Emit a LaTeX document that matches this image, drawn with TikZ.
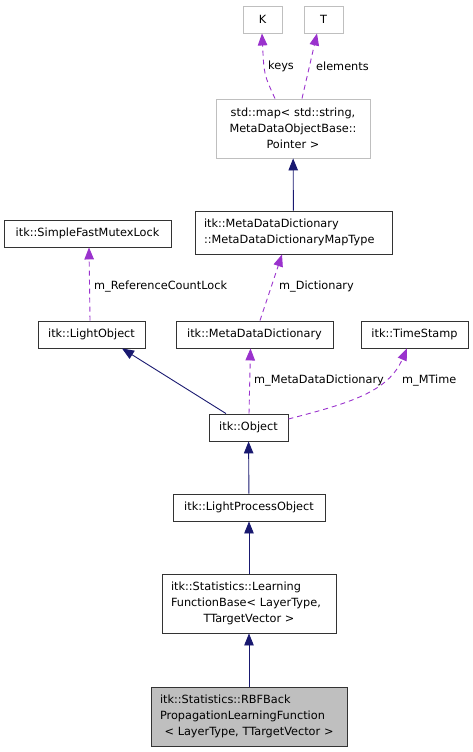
\documentclass[tikz,border=0pt]{standalone}
\usepackage{fontspec}
\setmainfont{DejaVu Sans}
\usetikzlibrary{arrows.meta, positioning}
\definecolor{inhblue}{HTML}{191970}
\definecolor{usepurple}{HTML}{9A32CD}
\definecolor{greyfill}{HTML}{BFBFBF}
\newcommand{\midline}[1]{\par\hfill #1\hfill\null}
\begin{document}
\begin{tikzpicture}[x = 1pt, y = -1pt,
    classbox/.style = {draw = black!80, line width = 0.9pt, inner xsep = 9pt, inner ysep = 0pt,
        font = \fontsize{11.3}{16}\selectfont},
    extbox/.style = {classbox, draw = greyfill},
    inherit/.style = {draw = inhblue, line width = 0.9pt, -{Triangle[length = 12pt, width = 9.5pt]}},
    member/.style = {draw = usepurple, line width = 0.9pt, dash pattern = on 5pt off 4pt,
        -{Triangle[length = 12pt, width = 9.5pt]}},
    memlabel/.style = {anchor = west, inner sep = 0pt, font = \fontsize{11.3}{16}\selectfont}]
    \useasboundingbox (0,0) rectangle (473,752);
    % Parametri dei template
    \node[extbox, text width = 21pt, align = center, minimum height = 27pt] (K) at (262.5,19.5) {K};
    \node[extbox, text width = 21pt, align = center, minimum height = 27pt] (T) at (323.5,19.5) {T};
    \node[extbox, text width = 136pt, align = center, minimum height = 59pt] (stdmap) at (293,128.5)
        {std::map< std::string,\\ MetaDataObjectBase::\\Pointer >};
    % Dizionario e lock
    \node[classbox, text width = 149pt, align = center, minimum height = 27pt] (mutex) at (87.5,233.5)
        {itk::SimpleFastMutexLock};
    \node[classbox, text width = 179pt, align = left, minimum height = 43pt] (maptype) at (293.5,232.5)
        {itk::MetaDataDictionary\\::MetaDataDictionaryMapType};
    \node[classbox, text width = 89pt, align = center, minimum height = 27pt] (lightobj) at (91.5,334.5)
        {itk::LightObject};
    \node[classbox, text width = 139pt, align = center, minimum height = 27pt] (mdd) at (254.5,334.5)
        {itk::MetaDataDictionary};
    \node[classbox, text width = 89pt, align = center, minimum height = 27pt] (timestamp) at (414.5,334.5)
        {itk::TimeStamp};
    % Catena di ereditarieta'
    \node[classbox, text width = 61pt, align = center, minimum height = 27pt] (object) at (248.5,427.5)
        {itk::Object};
    \node[classbox, text width = 134pt, align = center, minimum height = 27pt] (lpo) at (249,507.5)
        {itk::LightProcessObject};
    \node[classbox, text width = 156pt, align = left, minimum height = 59pt] (lfb) at (249,603.5)
        {itk::Statistics::Learning\\FunctionBase< LayerType,\midline{TTargetVector >}};
    \node[classbox, fill = greyfill, text width = 178pt, align = left, minimum height = 59pt] (rbf) at (249,716.5)
        {itk::Statistics::RBFBack\\PropagationLearningFunction\midline{< LayerType, TTargetVector >}};
    % Archi di ereditarieta'
    \draw[inherit] (maptype) -- (stdmap);
    \draw[inherit] ([xshift = -22.5pt]object.north) -- ([xshift = 30.5pt]lightobj.south);
    \draw[inherit] (lpo) -- (object);
    \draw[inherit] (lfb) -- (lpo);
    \draw[inherit] (rbf) -- (lfb);
    % Archi dei membri
    \draw[member] ([xshift = -18pt]stdmap.north) .. controls ([xshift = -29pt, yshift = 24pt]stdmap.north) .. ([xshift = -0.5pt]K.south);
    \draw[member] ([xshift = 9pt]stdmap.north) -- ([xshift = -6.5pt]T.south);
    \draw[member] ([xshift = -1.5pt]lightobj.north) -- ([xshift = 1.5pt]mutex.south);
    \draw[member] ([xshift = 5.5pt]mdd.north) -- ([xshift = -11.5pt]maptype.south);
    \draw[member] ([xshift = 0.5pt]object.north) -- ([xshift = -4pt]mdd.south);
    \draw[member] ([yshift = 8.5pt]object.east) .. controls (350,403) and (388,392) .. ([xshift = -7.5pt]timestamp.south);
    % Etichette
    \node[memlabel] (lkeys) at (268,66) {keys};
    \node[memlabel] (lelements) at (316,66) {elements};
    \node[memlabel] (lrefcount) at (94,287) {m\_ReferenceCountLock};
    \node[memlabel] (ldict) at (279,287) {m\_Dictionary};
    \node[memlabel] (lmdd) at (254,381) {m\_MetaDataDictionary};
    \node[memlabel] (lmtime) at (402,381) {m\_MTime};
\end{tikzpicture}
\end{document}
